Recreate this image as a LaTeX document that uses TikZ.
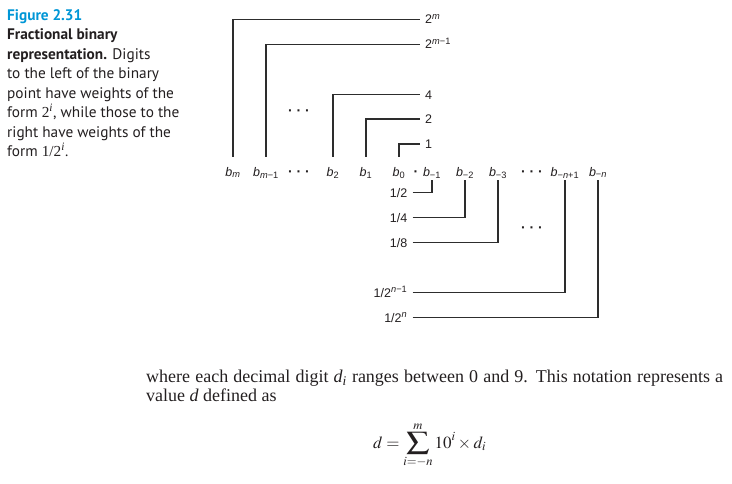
\documentclass[tikz,border=0pt]{standalone}
\usepackage{mathptmx}
\usepackage{graphicx}
\usepackage{fontspec}
\setmainfont{Liberation Serif}
\newfontfamily\capfont{PT Sans}
\newfontfamily\labfont{Liberation Sans}
\definecolor{figblue}{RGB}{0,150,214}
\definecolor{ink}{RGB}{35,31,32}
\definecolor{wirecol}{RGB}{45,45,45}
\newcommand\bl[1]{\textit{b}\textsubscript{#1}}
\newcommand\mm{\textit{m}}
\newcommand\nn{\textit{n}}
\newcommand\bigsum{\mathop{\hbox{\scalebox{1.35}[1.05]{$\displaystyle\sum$}}}\limits}
\tikzset{
  capline/.style={font=\capfont\fontsize{15.3}{19.5}\selectfont, text=ink, inner sep=0pt, anchor=base west},
  bitlab/.style={font=\labfont\fontsize{12.5}{14}\selectfont, text=ink, inner sep=0pt, text height=19pt, text depth=4pt, anchor=base},
  wlab/.style={font=\labfont\fontsize{12.5}{14}\selectfont, text=ink, inner sep=0pt, text height=9pt, text depth=0pt, anchor=west},
  flab/.style={font=\labfont\fontsize{12.5}{14}\selectfont, text=ink, inner sep=0pt, text height=9pt, text depth=0pt, anchor=east},
  dotlab/.style={font=\labfont\bfseries\fontsize{14}{16}\selectfont, text=ink, inner sep=0pt, anchor=base},
  wire/.style={line width=1.1pt, draw=wirecol},
  bodyline/.style={font=\fontsize{18}{20}\selectfont, text=ink, inner sep=0pt, anchor=base west}
}
\begin{document}
\begin{tikzpicture}[x=1pt,y=-1pt]
\useasboundingbox (0,0) rectangle (732,483);
% caption
\node[capline, text=figblue] (cap1) at (7,20) {\bfseries Figure 2.31};
\node[capline] (cap2) at (7,39.5) {\bfseries Fractional binary};
\node[capline] (cap3) at (7,59) {\textbf{representation.} Digits};
\node[capline] (cap4) at (7,78.5) {to the left of the binary};
\node[capline] (cap5) at (7,98) {point have weights of the};
\node[capline] (cap6) at (7,117.5) {form {\rmfamily 2\textsuperscript{\textit{i}}}, while those to the};
\node[capline] (cap7) at (7,137) {right have weights of the};
\node[capline] (cap8) at (7,156.5) {form {\rmfamily 1/2\textsuperscript{\textit{i}}}.};
% bit row
\node[bitlab] (bm)   at (233,176) {\bl{\mm}};
\node[bitlab] (bm1)  at (266,176) {\bl{\mm−1}};
\node[dotlab] (dl) at (299,176) {· · ·};
\node[bitlab] (b2)   at (333,176) {\bl{2}};
\node[bitlab] (b1)   at (366,176) {\bl{1}};
\node[bitlab] (b0)   at (399,176) {\bl{0}};
\node[dotlab] (pt) at (416,176) {·};
\node[bitlab] (bn1)  at (432,176) {\bl{−1}};
\node[bitlab] (bn2)  at (465,176) {\bl{−2}};
\node[bitlab] (bn3)  at (498,176) {\bl{−3}};
\node[dotlab] (dr) at (532,176) {· · ·};
\node[bitlab] (bnm1) at (565,176) {\bl{−\nn+1}};
\node[bitlab] (bnm)  at (598,176) {\bl{−\nn}};
% weights of integer part
\node[wlab] (w2m)  at (425,19.3)  {2\textsuperscript{\mm}};
\node[wlab] (w2m1) at (425,44.3)  {2\textsuperscript{\mm−1}};
\node[wlab] (w4)   at (425,94.5)  {4};
\node[wlab] (w2)   at (425,119)   {2};
\node[wlab] (w1)   at (425,144)   {1};
\node[dotlab] (du) at (299,115) {· · ·};
\draw[wire, shorten <=5.5pt] (w2m.west)  -| (bm.north);
\draw[wire, shorten <=5.5pt] (w2m1.west) -| (bm1.north);
\draw[wire, shorten <=5.5pt] (w4.west)   -| (b2.north);
\draw[wire, shorten <=5.5pt] (w2.west)   -| (b1.north);
\draw[wire, shorten <=5.5pt] (w1.west)   -| (b0.north);
% weights of fractional part
\node[flab] (f1) at (407.5,192.5) {1/2};
\node[flab] (f2) at (407.5,217.5) {1/4};
\node[flab] (f3) at (407.5,242.5) {1/8};
\node[flab] (f4) at (407.5,292.5) {1/2\textsuperscript{\nn−1}};
\node[flab] (f5) at (407.5,317.5) {1/2\textsuperscript{\nn}};
\node[dotlab] (dd) at (532,232) {· · ·};
\draw[wire, shorten <=5pt] (f1.east) -| (bn1.south);
\draw[wire, shorten <=5pt] (f2.east) -| (bn2.south);
\draw[wire, shorten <=5pt] (f3.east) -| (bn3.south);
\draw[wire, shorten <=5pt] (f4.east) -| (bnm1.south);
\draw[wire, shorten <=5pt] (f5.east) -| (bnm.south);
% body text
\node[bodyline] (t1) at (146,382.3) {\makebox[577pt][s]{where each decimal digit \textit{d}\textsubscript{\textit{i}} ranges between 0 and 9. This notation represents a}};
\node[bodyline] (t2) at (146,401.7) {value \textit{d} defined as};
\node[bodyline, font=\fontsize{17}{20}\selectfont] (eq) at (373,448) {$\displaystyle d=\bigsum_{i=-n}^{m}10^{i}\times d_{i}$};
\end{tikzpicture}
\end{document}
